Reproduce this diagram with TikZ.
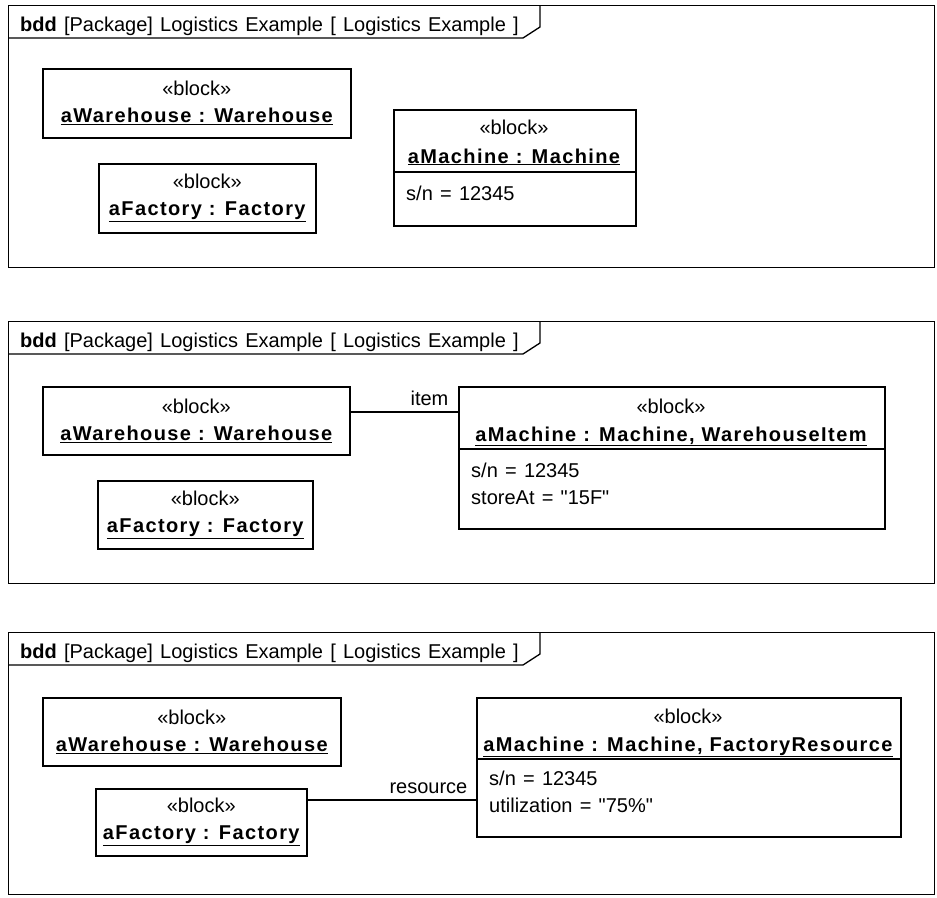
\documentclass[tikz,border=0pt]{standalone}
\usepackage{fontspec}
\setmainfont{Liberation Sans}[WordSpace=1.3]
\newfontfamily\namefont{Liberation Sans Bold}[LetterSpace=7]
\usetikzlibrary{positioning}

\newcommand{\objname}[1]{\underline{{\namefont #1}}}
\newcommand{\qt}[1]{\textquotedbl#1\textquotedbl}

\begin{document}
\begin{tikzpicture}[
  x=1pt, y=-1pt,
  font=\fontsize{20}{27}\selectfont,
  frame/.style={draw, line width=1.3pt, inner sep=0pt, anchor=north west, minimum width=926, minimum height=262},
  tab/.style={line width=1.3pt},
  block/.style={draw, line width=1.5pt, inner sep=0pt, align=center, anchor=north west},
  title/.style={anchor=base west, inner sep=0pt},
  stereo/.style={anchor=base, inner sep=0pt},
  attr/.style={anchor=north west, inner sep=0pt, align=left},
  divider/.style={line width=1.2pt},
  link/.style={line width=1.3pt},
  role/.style={inner sep=0pt, anchor=base east}
]
\useasboundingbox (0,0) rectangle (937,897);

% first frame: no links
\node[frame] (frame1) at (8,5) {};
\draw[tab] (540,5) -- (540,27) -- (523,38) -- (8,38);
\node[title] (title1) at (20,31) {\textbf{bdd} [Package] Logistics Example [ Logistics Example ]};
\node[block, minimum width=308, minimum height=69] (house1) at (42,68)
  {«block»\\\objname{aWarehouse : Warehouse}};
\node[block, minimum width=217, minimum height=69] (factory1) at (98,163)
  {«block»\\\objname{aFactory : Factory}};
\node[block, minimum width=242, minimum height=116] (machine1) at (393,109) {};
\node[stereo] (machine1st) at (514,134) {«block»};
\node[stereo] (machine1nm) at (514,163) {\objname{aMachine : Machine}};
\draw[divider] (machine1.west |- 0,172) -- (machine1.east |- 0,172);
\node[attr] (machine1at) at (406,186) {s/n = 12345};

% second frame: machine as warehouse item
\node[frame] (frame2) at (8,321) {};
\draw[tab] (540,321) -- (540,343) -- (523,354) -- (8,354);
\node[title] (title2) at (20,347) {\textbf{bdd} [Package] Logistics Example [ Logistics Example ]};
\node[block, minimum width=307, minimum height=68] (house2) at (42,386)
  {«block»\\\objname{aWarehouse : Warehouse}};
\node[block, minimum width=215, minimum height=68] (factory2) at (97,480)
  {«block»\\\objname{aFactory : Factory}};
\node[block, minimum width=426, minimum height=142] (machine2) at (458,386) {};
\node[stereo] (machine2st) at (671,413) {«block»};
\node[stereo] (machine2nm) at (671,441) {\objname{aMachine : Machine, WarehouseItem}};
\draw[divider] (machine2.west |- 0,449) -- (machine2.east |- 0,449);
\node[attr] (machine2at) at (471,463) {s/n = 12345\\storeAt = \qt{15F}};
\draw[link] (house2.east |- 0,412) -- (machine2.west |- 0,412)
  node[role, pos=1, xshift=-9pt, yshift=7pt] {item};

% third frame: machine as factory resource
\node[frame] (frame3) at (8,632) {};
\draw[tab] (540,632) -- (540,654) -- (523,665) -- (8,665);
\node[title] (title3) at (20,658) {\textbf{bdd} [Package] Logistics Example [ Logistics Example ]};
\node[block, minimum width=298, minimum height=68] (house3) at (42,697)
  {«block»\\\objname{aWarehouse : Warehouse}};
\node[block, minimum width=211, minimum height=67] (factory3) at (95,788)
  {«block»\\\objname{aFactory : Factory}};
\node[block, minimum width=424, minimum height=139] (machine3) at (476,697) {};
\node[stereo] (machine3st) at (688,723) {«block»};
\node[stereo] (machine3nm) at (688,751) {\objname{aMachine : Machine, FactoryResource}};
\draw[divider] (machine3.west |- 0,759) -- (machine3.east |- 0,759);
\node[attr] (machine3at) at (489,771) {s/n = 12345\\utilization = \qt{75\%}};
\draw[link] (factory3.east |- 0,800) -- (machine3.west |- 0,800)
  node[role, pos=1, xshift=-8pt, yshift=7pt] {resource};
\end{tikzpicture}
\end{document}
